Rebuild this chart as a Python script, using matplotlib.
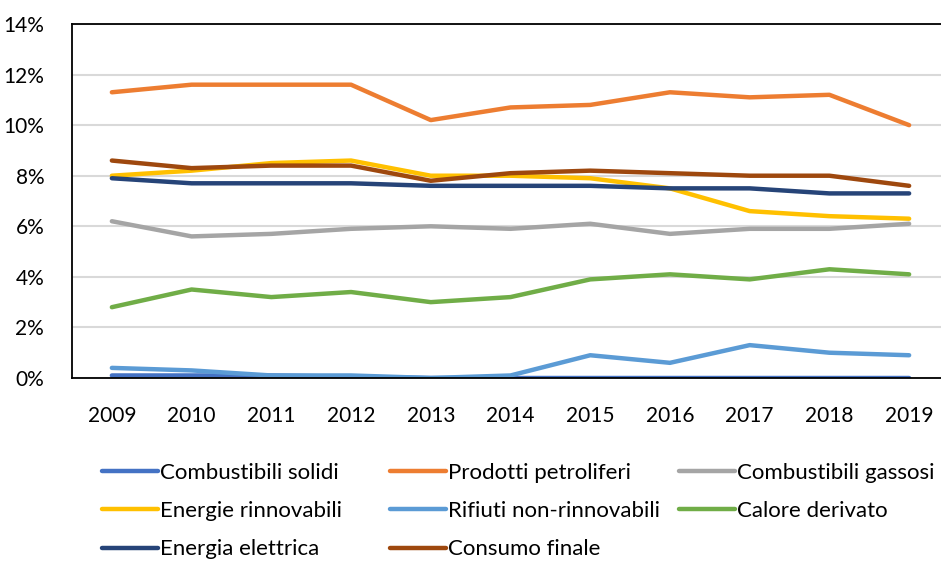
import matplotlib.pyplot as plt
from matplotlib.ticker import MultipleLocator, FuncFormatter

plt.rcParams['font.family'] = ['Lato', 'DejaVu Sans']

anni = ['2009', '2010', '2011', '2012', '2013', '2014', '2015', '2016', '2017', '2018', '2019']

solidi = [0.1, 0.1, 0.1, 0.05, 0.0, 0.0, 0.0, 0.0, 0.0, 0.0, 0.0]
petroliferi = [11.3, 11.6, 11.6, 11.6, 10.2, 10.7, 10.8, 11.3, 11.1, 11.2, 10.0]
gassosi = [6.2, 5.6, 5.7, 5.9, 6.0, 5.9, 6.1, 5.7, 5.9, 5.9, 6.1]
rinnovabili = [8.0, 8.2, 8.5, 8.6, 8.0, 8.0, 7.9, 7.5, 6.6, 6.4, 6.3]
rifiuti = [0.4, 0.3, 0.1, 0.1, 0.0, 0.1, 0.9, 0.6, 1.3, 1.0, 0.9]
calore = [2.8, 3.5, 3.2, 3.4, 3.0, 3.2, 3.9, 4.1, 3.9, 4.3, 4.1]
elettrica = [7.9, 7.7, 7.7, 7.7, 7.6, 7.6, 7.6, 7.5, 7.5, 7.3, 7.3]
consumo = [8.6, 8.3, 8.4, 8.4, 7.8, 8.1, 8.2, 8.1, 8.0, 8.0, 7.6]

serie = [
    ('Combustibili solidi', solidi, '#4472C4'),
    ('Prodotti petroliferi', petroliferi, '#ED7D31'),
    ('Combustibili gassosi', gassosi, '#A5A5A5'),
    ('Energie rinnovabili', rinnovabili, '#FFC000'),
    ('Rifiuti non-rinnovabili', rifiuti, '#5B9BD5'),
    ('Calore derivato', calore, '#70AD47'),
    ('Energia elettrica', elettrica, '#264478'),
    ('Consumo finale', consumo, '#9E480E'),
]

fig = plt.figure(figsize=(9.41, 5.61), dpi=100)
ax = fig.add_axes([72 / 941, 1 - 378 / 561, 877 / 941, 354 / 561])

x = list(range(len(anni)))
linee = {}
for nome, valori, colore in serie:
    l, = ax.plot(x, valori, color=colore, lw=3.2, solid_capstyle='round',
                 solid_joinstyle='round', label=nome)
    linee[nome] = l

ax.set_xlim(-0.5, len(anni) - 0.5)
ax.set_ylim(0, 14)
ax.yaxis.set_major_locator(MultipleLocator(2))
ax.yaxis.set_major_formatter(FuncFormatter(lambda v, p: '%d%%' % v))
ax.set_xticks(x)
ax.set_xticklabels(anni)
ax.tick_params(axis='both', length=0, labelsize=15)
ax.tick_params(axis='x', pad=20)
ax.tick_params(axis='y', pad=20)
ax.grid(axis='y', color='#D9D9D9', lw=1.5)
ax.set_axisbelow(True)
for s in ['left', 'bottom', 'top']:
    ax.spines[s].set_color('black')
    ax.spines[s].set_linewidth(1.3)
ax.spines['right'].set_visible(False)

# leggenda a colonne fisse come in Excel
colonne = [
    (['Combustibili solidi', 'Energie rinnovabili', 'Energia elettrica'], 100),
    (['Prodotti petroliferi', 'Rifiuti non-rinnovabili', 'Consumo finale'], 388),
    (['Combustibili gassosi', 'Calore derivato'], 677),
]
for nomi, xpos in colonne:
    fig.legend([linee[n] for n in nomi], nomi, ncol=1, loc='upper left',
               bbox_to_anchor=((xpos + 2) / 941, 1 - 463 / 561), frameon=False,
               fontsize=16, handlelength=2.5, handletextpad=0.1,
               labelspacing=0.82, borderaxespad=0, borderpad=0)

fig.savefig('out.png', dpi=100)
